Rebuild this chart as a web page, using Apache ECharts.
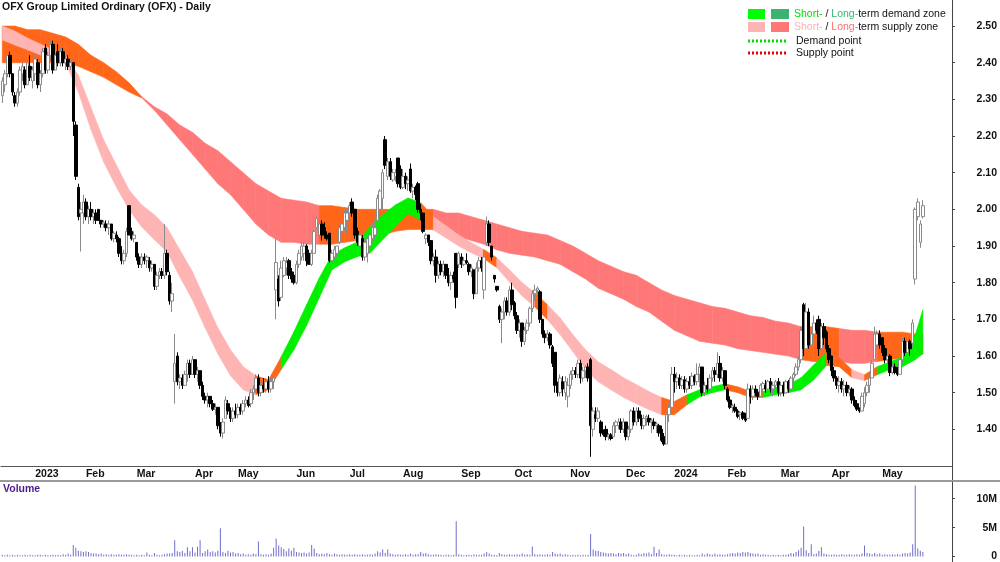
<!DOCTYPE html>
<html>
<head>
<meta charset="UTF-8">
<title>OFX Group Limited Ordinary (OFX) - Daily</title>
<script src="https://cdn.jsdelivr.net/npm/echarts/dist/echarts.min.js"></script>
<style>
  html, body { margin: 0; padding: 0; background: #fff; }
  #main { width: 1000px; height: 562px; }
</style>
</head>
<body>
<div id="main"></div>
<script>
// ASX holidays inside the charted period (weekends are skipped too)
var holidays = ['2022-12-26', '2022-12-27', '2023-01-02', '2023-01-26', '2023-04-07', '2023-04-10',
  '2023-04-25', '2023-06-12', '2023-12-25', '2023-12-26', '2024-01-01', '2024-01-26',
  '2024-03-29', '2024-04-01', '2024-04-25', '2024-06-10'];
var firstDay = '2022-12-12';
var dayCount = 375;   // includes the empty days at the right edge
var monthNames = ['Jan', 'Feb', 'Mar', 'Apr', 'May', 'Jun', 'Jul', 'Aug', 'Sep', 'Oct', 'Nov', 'Dec'];

// daily bars: [open, high, low, close, volume (millions)]
var bars2212 = [[2.31,2.36,2.29,2.35,0.3],[2.34,2.38,2.32,2.37,0.2],[2.37,2.43,2.36,2.42,0.3],[2.42,2.43,2.36,2.37,0.2],
  [2.37,2.37,2.31,2.32,0.3],[2.31,2.32,2.28,2.29,0.2],[2.29,2.33,2.28,2.32,0.3],[2.32,2.39,2.31,2.38,0.2],
  [2.37,2.40,2.35,2.39,0.2],[2.38,2.39,2.33,2.34,0.3],[2.34,2.41,2.34,2.40,0.2],[2.39,2.42,2.35,2.36,0.3],
  [2.35,2.39,2.33,2.38,0.2]];
var bars2301 = [[2.37,2.42,2.35,2.41,0.2],[2.40,2.41,2.33,2.34,0.3],[2.34,2.38,2.32,2.37,0.3],[2.37,2.44,2.36,2.43,0.2],
  [2.44,2.45,2.37,2.38,0.3],[2.38,2.43,2.37,2.42,0.2],[2.42,2.46,2.41,2.45,0.2],[2.45,2.46,2.37,2.38,0.3],
  [2.38,2.43,2.38,2.42,0.2],[2.43,2.45,2.39,2.40,0.3],[2.40,2.44,2.39,2.43,0.2],[2.43,2.44,2.39,2.40,0.4],
  [2.40,2.42,2.38,2.41,0.3],[2.41,2.42,2.38,2.39,0.5],[2.39,2.41,2.38,2.40,0.3],[2.40,2.40,2.20,2.24,2.0],
  [2.23,2.24,2.08,2.09,1.5],[2.06,2.07,1.97,1.98,1.0],[1.99,2.02,1.885,2.00,0.9],[1.99,2.04,1.96,2.02,0.8]];
var bars2302 = [[2.02,2.03,1.97,1.98,0.9],[1.98,2.01,1.96,2.00,0.8],[2.00,2.02,1.97,1.98,0.6],[1.98,2.00,1.96,1.99,0.5],
  [1.99,2.00,1.96,1.97,0.5],[2.00,2.00,1.97,1.97,0.4],[1.97,1.97,1.95,1.96,0.5],[1.96,1.97,1.95,1.965,0.3],
  [1.96,1.97,1.94,1.95,0.4],[1.95,1.97,1.93,1.96,0.3],[1.96,1.96,1.915,1.92,0.4],[1.92,1.94,1.91,1.935,0.3],
  [1.93,1.94,1.91,1.92,0.3],[1.92,1.925,1.87,1.88,0.4],[1.88,1.90,1.85,1.86,0.3],[1.86,1.89,1.85,1.88,0.3],
  [1.88,1.95,1.87,1.94,0.4],[2.01,2.01,1.93,1.93,0.3],[1.94,1.95,1.915,1.92,0.3],[1.92,1.94,1.91,1.93,0.2]];
var bars2303 = [[1.91,1.91,1.86,1.87,0.3],[1.87,1.88,1.84,1.85,0.2],[1.85,1.88,1.84,1.87,0.3],[1.87,1.88,1.85,1.86,0.2],
  [1.86,1.875,1.84,1.87,0.7],[1.86,1.87,1.83,1.84,0.3],[1.84,1.86,1.83,1.85,0.2],[1.85,1.85,1.78,1.79,0.6],
  [1.79,1.83,1.78,1.82,0.3],[1.82,1.84,1.81,1.83,0.2],[1.83,1.84,1.81,1.82,0.3],[1.82,1.96,1.81,1.88,0.4],
  [1.88,1.89,1.82,1.83,0.5],[1.82,1.83,1.74,1.75,0.5],[1.75,1.80,1.72,1.77,0.6],[1.53,1.66,1.47,1.58,2.8],
  [1.60,1.61,1.52,1.53,0.9],[1.53,1.55,1.51,1.54,0.8],[1.54,1.55,1.51,1.52,1.0],[1.52,1.56,1.52,1.55,0.6],
  [1.55,1.59,1.53,1.58,1.6],[1.58,1.59,1.54,1.55,0.9],[1.55,1.60,1.55,1.59,1.6]];
var bars2304 = [[1.59,1.59,1.54,1.55,0.7],[1.55,1.57,1.53,1.56,1.7],[1.56,1.56,1.51,1.52,2.8],[1.52,1.53,1.48,1.49,0.6],
  [1.49,1.50,1.47,1.48,0.9],[1.48,1.50,1.46,1.49,1.2],[1.49,1.49,1.46,1.47,0.8],[1.47,1.48,1.45,1.455,0.9],
  [1.455,1.47,1.44,1.46,0.7],[1.46,1.46,1.40,1.41,1.0],[1.41,1.42,1.38,1.39,4.9],[1.39,1.43,1.375,1.42,0.8],
  [1.43,1.49,1.43,1.48,0.6],[1.47,1.48,1.44,1.45,1.0],[1.45,1.46,1.42,1.43,0.7],[1.43,1.46,1.42,1.45,0.8],
  [1.45,1.47,1.43,1.44,0.5]];
var bars2305 = [[1.44,1.47,1.43,1.46,0.6],[1.46,1.47,1.44,1.45,0.4],[1.45,1.48,1.44,1.47,0.5],[1.47,1.49,1.46,1.48,0.3],
  [1.48,1.49,1.46,1.465,0.4],[1.47,1.51,1.46,1.50,0.3],[1.50,1.52,1.48,1.51,0.5],[1.51,1.55,1.50,1.54,0.4],
  [1.54,1.55,1.49,1.50,2.6],[1.50,1.53,1.49,1.52,0.4],[1.52,1.54,1.50,1.51,0.3],[1.51,1.54,1.50,1.53,0.4],
  [1.53,1.545,1.50,1.51,0.3],[1.51,1.54,1.50,1.53,0.5],[1.53,1.55,1.51,1.54,1.5],[1.78,1.92,1.70,1.855,3.1],
  [1.81,1.82,1.735,1.75,1.9],[1.76,1.86,1.75,1.84,1.6],[1.82,1.87,1.815,1.86,1.3],[1.84,1.87,1.82,1.855,0.9],
  [1.86,1.865,1.81,1.82,1.4],[1.83,1.84,1.80,1.81,1.0],[1.82,1.83,1.795,1.80,1.5]];
var bars2306 = [[1.80,1.86,1.795,1.85,0.8],[1.85,1.89,1.84,1.88,0.7],[1.87,1.91,1.86,1.90,0.6],[1.88,1.91,1.86,1.90,0.7],
  [1.90,1.905,1.845,1.86,0.5],[1.88,1.89,1.85,1.85,0.7],[1.85,1.89,1.845,1.88,2.0],[1.88,1.945,1.88,1.94,1.4],
  [1.95,1.98,1.945,1.975,0.6],[1.93,1.97,1.92,1.96,0.4],[1.96,1.97,1.915,1.93,0.5],[1.95,1.965,1.92,1.93,0.4],
  [1.93,1.94,1.915,1.92,0.6],[1.935,1.935,1.855,1.86,0.4],[1.86,1.89,1.855,1.88,0.3],[1.87,1.90,1.865,1.89,0.5],
  [1.88,1.90,1.87,1.90,0.4],[1.91,1.96,1.905,1.95,0.3],[1.94,1.97,1.93,1.96,0.4],[1.95,2.00,1.94,1.99,0.3],
  [1.97,2.00,1.935,1.99,0.3]];
var bars2307 = [[1.99,2.02,1.98,2.01,0.4],[2.02,2.03,1.98,1.99,0.3],[2.00,2.00,1.92,1.93,0.4],[1.94,1.95,1.90,1.91,0.3],
  [1.90,1.935,1.89,1.93,0.3],[1.92,1.93,1.86,1.87,0.4],[1.87,1.92,1.86,1.91,0.3],[1.88,1.925,1.855,1.92,0.3],
  [1.90,1.94,1.89,1.93,0.4],[1.92,1.96,1.91,1.95,0.3],[1.93,1.97,1.92,1.95,0.5],[1.97,2.04,1.97,2.03,0.9],
  [2.00,2.055,1.99,2.05,0.7],[2.03,2.11,2.00,2.10,1.2],[2.19,2.20,2.11,2.12,0.6],[2.09,2.14,2.08,2.13,1.2],
  [2.13,2.14,2.08,2.09,0.5],[2.08,2.11,2.075,2.10,0.4],[2.09,2.11,2.075,2.10,0.3],[2.14,2.14,2.06,2.07,0.4],
  [2.11,2.12,2.055,2.06,0.3]];
var bars2308 = [[2.06,2.11,2.055,2.09,0.3],[2.09,2.10,2.055,2.07,0.4],[2.07,2.09,2.05,2.08,0.3],[2.11,2.125,2.045,2.05,0.5],
  [2.05,2.07,2.03,2.06,0.3],[2.06,2.065,2.025,2.04,0.4],[2.07,2.075,1.99,2.00,0.4],[2.00,2.015,1.97,1.99,0.8],
  [1.99,1.99,1.935,1.94,0.5],[1.92,1.935,1.905,1.93,0.6],[1.93,1.93,1.90,1.91,0.4],[1.915,1.915,1.85,1.86,0.3],
  [1.86,1.88,1.845,1.87,0.3],[1.87,1.89,1.80,1.82,0.4],[1.82,1.86,1.81,1.85,0.3],[1.85,1.86,1.82,1.83,0.3],
  [1.83,1.86,1.815,1.85,0.2],[1.85,1.85,1.81,1.82,0.3],[1.82,1.84,1.79,1.80,0.3],[1.80,1.83,1.78,1.82,0.2],
  [1.82,1.83,1.80,1.81,0.3],[1.88,1.88,1.73,1.76,6.1],[1.85,1.885,1.84,1.88,0.4]];
var bars2309 = [[1.87,1.88,1.84,1.85,0.3],[1.85,1.87,1.845,1.86,0.2],[1.86,1.88,1.85,1.855,0.3],[1.85,1.855,1.82,1.83,0.3],
  [1.83,1.85,1.815,1.84,0.2],[1.835,1.835,1.755,1.77,0.4],[1.77,1.855,1.77,1.84,0.3],[1.84,1.87,1.83,1.86,0.3],
  [1.86,1.87,1.83,1.84,0.3],[1.78,1.89,1.755,1.87,0.5],[1.91,1.98,1.90,1.96,0.8],[1.96,1.97,1.90,1.91,0.5],
  [1.90,1.90,1.86,1.87,0.3],[1.82,1.82,1.80,1.81,0.3],[1.79,1.79,1.775,1.78,0.2],[1.735,1.74,1.69,1.70,0.6],
  [1.70,1.73,1.635,1.72,0.4],[1.72,1.76,1.70,1.75,0.3],[1.75,1.76,1.71,1.72,0.3],[1.72,1.79,1.71,1.78,0.4],
  [1.78,1.80,1.725,1.74,0.3]];
var bars2310 = [[1.745,1.75,1.70,1.71,0.3],[1.71,1.72,1.66,1.67,0.4],[1.67,1.70,1.65,1.69,0.3],[1.69,1.69,1.625,1.64,0.5],
  [1.64,1.68,1.63,1.67,0.3],[1.67,1.70,1.66,1.69,0.4],[1.69,1.735,1.68,1.73,0.3],[1.73,1.78,1.72,1.77,1.75],
  [1.77,1.795,1.75,1.78,0.4],[1.78,1.79,1.76,1.785,0.3],[1.775,1.78,1.69,1.70,0.4],[1.70,1.70,1.65,1.66,0.3],
  [1.66,1.67,1.635,1.65,0.3],[1.65,1.67,1.64,1.66,0.4],[1.66,1.665,1.62,1.63,0.3],[1.625,1.63,1.57,1.58,0.8],
  [1.61,1.61,1.50,1.52,0.5],[1.52,1.53,1.49,1.50,0.4],[1.50,1.55,1.49,1.54,0.5],[1.53,1.545,1.49,1.51,0.3],
  [1.50,1.545,1.48,1.53,0.4],[1.49,1.54,1.46,1.52,0.3]];
var bars2311 = [[1.52,1.56,1.51,1.55,0.2],[1.55,1.57,1.535,1.56,0.3],[1.56,1.57,1.54,1.55,0.2],[1.55,1.59,1.54,1.58,0.3],
  [1.58,1.59,1.525,1.54,0.2],[1.54,1.57,1.53,1.56,0.3],[1.56,1.575,1.54,1.57,0.2],[1.57,1.58,1.53,1.54,0.3],
  [1.59,1.595,1.325,1.41,3.9],[1.40,1.46,1.38,1.45,1.2],[1.44,1.46,1.42,1.43,1.0],[1.43,1.46,1.42,1.45,1.0],
  [1.42,1.425,1.38,1.39,0.8],[1.39,1.40,1.38,1.385,0.7],[1.40,1.41,1.37,1.38,0.6],[1.38,1.39,1.37,1.385,0.5],
  [1.385,1.39,1.37,1.375,0.6],[1.38,1.42,1.38,1.41,0.5],[1.41,1.425,1.39,1.42,0.4],[1.41,1.43,1.40,1.42,0.6],
  [1.42,1.43,1.39,1.40,0.5],[1.40,1.43,1.39,1.42,0.6]];
var bars2312 = [[1.42,1.42,1.37,1.38,0.4],[1.38,1.41,1.37,1.40,0.5],[1.40,1.455,1.39,1.45,0.3],[1.45,1.46,1.41,1.42,0.2],
  [1.42,1.46,1.41,1.45,0.3],[1.45,1.46,1.42,1.43,0.5],[1.43,1.44,1.40,1.41,0.4],[1.41,1.44,1.40,1.43,0.6],
  [1.43,1.44,1.41,1.435,0.5],[1.43,1.44,1.41,1.42,0.7],[1.42,1.43,1.39,1.425,0.4],[1.42,1.43,1.40,1.41,1.7],
  [1.41,1.42,1.39,1.415,0.6],[1.41,1.415,1.38,1.39,1.2],[1.40,1.41,1.365,1.37,0.4],[1.38,1.39,1.355,1.36,0.3],
  [1.36,1.445,1.36,1.44,0.3],[1.44,1.47,1.42,1.46,0.4],[1.46,1.57,1.46,1.55,0.3]];
var bars2401 = [[1.55,1.57,1.50,1.53,0.3],[1.53,1.555,1.51,1.54,0.2],[1.54,1.55,1.51,1.52,0.3],[1.52,1.545,1.51,1.535,0.2],
  [1.535,1.545,1.50,1.51,0.3],[1.51,1.54,1.50,1.53,0.2],[1.53,1.545,1.51,1.52,0.3],[1.52,1.555,1.51,1.545,0.2],
  [1.545,1.55,1.52,1.53,0.2],[1.53,1.58,1.52,1.55,0.3],[1.55,1.58,1.515,1.57,0.2],[1.57,1.57,1.49,1.50,0.5],
  [1.50,1.53,1.49,1.52,0.3],[1.52,1.54,1.50,1.51,0.5],[1.51,1.55,1.50,1.54,0.4],[1.54,1.57,1.53,1.56,0.3],
  [1.56,1.57,1.53,1.55,0.5],[1.55,1.61,1.54,1.58,0.3],[1.58,1.60,1.53,1.54,0.4],[1.54,1.57,1.53,1.56,0.3],
  [1.56,1.56,1.51,1.52,0.3]];
var bars2402 = [[1.51,1.515,1.475,1.48,0.4],[1.48,1.49,1.455,1.46,0.5],[1.46,1.47,1.445,1.465,0.6],[1.46,1.47,1.445,1.45,0.5],
  [1.45,1.455,1.43,1.435,0.7],[1.44,1.45,1.425,1.445,0.6],[1.445,1.45,1.425,1.43,0.8],[1.43,1.445,1.42,1.425,0.7],
  [1.43,1.525,1.43,1.51,0.8],[1.51,1.52,1.47,1.49,0.6],[1.49,1.52,1.48,1.51,0.5],[1.51,1.52,1.49,1.50,0.4],
  [1.50,1.51,1.48,1.49,0.5],[1.49,1.525,1.49,1.52,0.3],[1.51,1.53,1.50,1.525,0.4],[1.52,1.535,1.50,1.51,0.3],
  [1.51,1.535,1.50,1.53,0.3],[1.53,1.54,1.50,1.51,0.2],[1.51,1.53,1.49,1.52,0.3],[1.52,1.535,1.50,1.53,0.2],
  [1.53,1.54,1.49,1.50,0.3]];
var bars2403 = [[1.50,1.53,1.49,1.52,0.2],[1.52,1.53,1.49,1.50,0.3],[1.50,1.535,1.50,1.53,0.3],[1.53,1.535,1.50,1.51,0.4],
  [1.51,1.545,1.51,1.54,0.6],[1.54,1.555,1.515,1.55,0.5],[1.55,1.58,1.545,1.57,0.8],[1.57,1.60,1.56,1.59,1.1],
  [1.59,1.68,1.58,1.67,1.5],[1.74,1.745,1.60,1.62,5.2],[1.62,1.745,1.61,1.72,1.1],[1.72,1.73,1.62,1.63,0.6],
  [1.63,1.67,1.615,1.66,2.1],[1.66,1.71,1.645,1.69,0.4],[1.69,1.70,1.66,1.67,0.5],[1.70,1.71,1.60,1.62,1.0],
  [1.62,1.69,1.61,1.68,1.6],[1.68,1.69,1.63,1.65,0.5],[1.665,1.67,1.61,1.62,0.4],[1.62,1.63,1.58,1.59,0.3]];
var bars2404 = [[1.60,1.60,1.545,1.56,0.3],[1.56,1.57,1.53,1.54,0.4],[1.54,1.545,1.51,1.52,0.3],[1.52,1.545,1.50,1.53,0.3],
  [1.53,1.54,1.50,1.51,0.4],[1.51,1.535,1.49,1.52,0.3],[1.52,1.53,1.49,1.50,0.3],[1.50,1.52,1.49,1.51,0.4],
  [1.51,1.515,1.47,1.48,0.3],[1.48,1.49,1.46,1.465,0.3],[1.47,1.48,1.45,1.455,0.4],[1.455,1.46,1.445,1.45,0.3],
  [1.45,1.50,1.45,1.49,0.5],[1.47,1.515,1.46,1.50,1.9],[1.50,1.53,1.49,1.52,0.6],[1.52,1.545,1.50,1.54,0.5],
  [1.54,1.59,1.54,1.58,0.4],[1.59,1.68,1.59,1.66,0.6],[1.63,1.67,1.62,1.66,0.4],[1.66,1.67,1.62,1.63,0.5]];
var bars2405 = [[1.65,1.65,1.60,1.61,0.3],[1.62,1.63,1.58,1.59,0.4],[1.59,1.61,1.57,1.60,0.3],[1.60,1.605,1.545,1.555,0.3],
  [1.555,1.58,1.55,1.57,0.4],[1.57,1.58,1.55,1.555,0.3],[1.56,1.57,1.545,1.55,0.4],[1.55,1.60,1.55,1.59,0.3],
  [1.59,1.65,1.58,1.64,0.5],[1.64,1.65,1.60,1.61,0.6],[1.61,1.65,1.60,1.64,0.5],[1.64,1.645,1.60,1.62,0.7],
  [1.635,1.70,1.625,1.69,2.1],[1.81,2.005,1.795,2.00,12.3],[1.98,2.03,1.97,2.02,1.4],[1.91,1.97,1.895,1.96,1.0],
  [1.98,2.025,1.975,2.01,0.8]];

// zone bands, read every 5 trading days (day index from firstDay)
var bandDays = [0,5,10,15,20,25,30,35,40,45,50,55,60,65,70,75,80,85,90,95,100,105,110,115,120,125,130,135,140,145,
  150,155,160,165,170,175,180,185,190,195,200,205,210,215,220,225,230,235,240,245,250,255,260,265,270,275,280,285,
  290,295,300,305,310,315,320,325,330,335,340,345,350,355,360,363];
var ltHigh = [2.50,2.50,2.49,2.49,2.48,2.47,2.45,2.42,2.40,2.375,2.345,2.307,2.28,2.26,2.23,2.21,2.18,2.16,2.13,2.10,
  2.07,2.05,2.03,2.025,2.02,2.01,2.01,2.005,2.00,2.00,2.00,2.00,2.00,2.00,2.00,1.99,1.99,1.98,1.97,1.96,
  1.95,1.94,1.935,1.93,1.915,1.90,1.88,1.86,1.845,1.83,1.82,1.80,1.78,1.765,1.755,1.745,1.735,1.73,1.72,1.71,
  1.705,1.695,1.69,1.68,1.68,1.68,1.675,1.67,1.67,1.665,1.665,1.665,1.66,1.66];
var ltLow = [2.40,2.40,2.40,2.40,2.40,2.40,2.39,2.375,2.36,2.34,2.32,2.304,2.27,2.23,2.19,2.15,2.11,2.07,2.04,2.00,
  1.96,1.93,1.91,1.91,1.905,1.905,1.905,1.91,1.915,1.92,1.93,1.94,1.945,1.945,1.945,1.935,1.925,1.915,1.905,1.89,
  1.88,1.875,1.87,1.86,1.85,1.83,1.81,1.785,1.77,1.755,1.735,1.72,1.695,1.67,1.655,1.64,1.635,1.63,1.62,1.615,
  1.61,1.605,1.60,1.59,1.585,1.585,1.585,1.58,1.58,1.585,1.59,1.595,1.60,1.605];
var stHigh = [2.50,2.486,2.467,2.451,2.435,2.418,2.366,2.277,2.189,2.121,2.053,2.012,1.985,1.950,1.890,1.830,1.753,1.677,1.617,1.571,
  1.546,1.535,1.598,1.666,1.740,1.813,1.876,1.895,1.911,1.952,1.985,2.012,2.031,2.018,1.980,1.955,1.930,1.909,1.890,1.868,
  1.835,1.800,1.772,1.740,1.704,1.658,1.617,1.584,1.563,1.541,1.522,1.503,1.487,1.476,1.494,1.508,1.516,1.524,1.516,1.503,
  1.503,1.514,1.522,1.541,1.576,1.609,1.595,1.563,1.549,1.571,1.584,1.598,1.658,1.726];
var stLow = [2.462,2.448,2.435,2.421,2.410,2.399,2.320,2.217,2.129,2.061,1.999,1.952,1.917,1.884,1.816,1.753,1.677,1.606,1.546,1.508,
  1.494,1.508,1.563,1.617,1.683,1.759,1.835,1.857,1.871,1.881,1.917,1.952,1.988,1.971,1.944,1.922,1.900,1.881,1.865,1.841,
  1.802,1.764,1.734,1.699,1.658,1.612,1.563,1.530,1.508,1.487,1.470,1.454,1.440,1.440,1.467,1.489,1.500,1.508,1.500,1.487,
  1.487,1.494,1.500,1.508,1.535,1.574,1.571,1.541,1.533,1.549,1.563,1.571,1.590,1.606];
// zone of each stretch between two band points: s = supply, d = demand, n = neutral
var ltZone = 'nnnnnnnnnnn' + 'ssssssssssssss' + 'nnnnnnnnn' + 'sssssssssssssssssssssssssssss' + 'nnn' + 'sss' + 'nnnn';
var stZone = 'ssssssssssssssssssss' + 'nn' + 'ddddddddddd' + 'n' + 'ssss' + 'n' + 'sss' + 'n' + 'sssssssss' +
  'nn' + 'ddd' + 'nnn' + 'ddddd' + 'nn' + 's' + 'n' + 'dddd';

var FONT = '"Liberation Sans", Arial, sans-serif';

function tradingDays(start, n) {
  var out = [], d = new Date(start + 'T00:00:00Z');
  while (out.length < n) {
    var dow = d.getUTCDay(), s = d.toISOString().slice(0, 10);
    if (dow !== 0 && dow !== 6 && holidays.indexOf(s) < 0) out.push(s);
    d.setUTCDate(d.getUTCDate() + 1);
  }
  return out;
}

var dates = tradingDays(firstDay, dayCount);
var bars = [].concat(bars2212, bars2301, bars2302, bars2303, bars2304, bars2305, bars2306, bars2307, bars2308,
  bars2309, bars2310, bars2311, bars2312, bars2401, bars2402, bars2403, bars2404, bars2405);
var candles = bars.map(function (b) { return [b[0], b[3], b[2], b[1]]; });
var volumes = bars.map(function (b) { return b[4]; });

// month ticks only where there is data
function monthStart(i) {
  return i > 0 && i < bars.length && dates[i].slice(5, 7) !== dates[i - 1].slice(5, 7);
}

function zoneBand(hi, lo, zones, palette, z) {
  var items = [];
  for (var i = 0; i < bandDays.length - 1; i++) {
    items.push([bandDays[i], lo[i], hi[i], bandDays[i + 1], lo[i + 1], hi[i + 1]]);
  }
  return {
    type: 'custom', xAxisIndex: 0, yAxisIndex: 0, z: z, silent: true,
    encode: { x: [0, 3], y: [1, 2, 4, 5] },
    data: items,
    renderItem: function (params, api) {
      var col = palette[zones.charAt(params.dataIndex)];
      var pts = [
        api.coord([api.value(0), api.value(2)]),
        api.coord([api.value(3), api.value(5)]),
        api.coord([api.value(3), api.value(4)]),
        api.coord([api.value(0), api.value(1)])
      ];
      return { type: 'polygon', shape: { points: pts }, style: { fill: col, stroke: col, lineWidth: 0.6 } };
    }
  };
}

var chart = echarts.init(document.getElementById('main'));
chart.setOption({
  animation: false,
  backgroundColor: '#fff',
  grid: [
    { left: 1, right: 48, top: 0, height: 466 },
    { left: 1, right: 48, top: 482, height: 76 }
  ],
  xAxis: [{
    type: 'category', gridIndex: 0, data: dates, boundaryGap: true,
    axisLine: { lineStyle: { color: '#555', width: 1 } },
    axisTick: { interval: monthStart, length: 3, lineStyle: { color: '#555' } },
    axisLabel: {
      interval: monthStart, align: 'left', margin: 3,
      fontFamily: FONT, fontSize: 10.5, fontWeight: 'bold', color: '#111',
      formatter: function (v) {
        var m = +v.slice(5, 7);
        return m === 1 ? v.slice(0, 4) : monthNames[m - 1];
      }
    },
    splitLine: { show: false }
  }, {
    type: 'category', gridIndex: 1, data: dates, boundaryGap: true,
    axisLine: { show: false }, axisTick: { show: false }, axisLabel: { show: false }
  }],
  yAxis: [{
    type: 'value', gridIndex: 0, position: 'right', min: 1.30, max: 2.571, interval: 0.1,
    splitLine: { show: false },
    axisLine: { show: true, lineStyle: { color: '#444' } },
    axisTick: { show: true, length: 3, lineStyle: { color: '#444' } },
    axisLabel: {
      showMinLabel: false, showMaxLabel: false, align: 'right', margin: 45,
      fontFamily: FONT, fontSize: 10.5, fontWeight: 'bold', color: '#111',
      formatter: function (v) { return v.toFixed(2); }
    }
  }, {
    type: 'value', gridIndex: 1, position: 'right', min: 0, max: 12.9, interval: 5,
    splitLine: { show: false },
    axisLine: { show: true, lineStyle: { color: '#444' } },
    axisTick: { show: true, length: 3, lineStyle: { color: '#444' } },
    axisLabel: {
      showMaxLabel: false, align: 'right', margin: 45,
      fontFamily: FONT, fontSize: 10.5, fontWeight: 'bold', color: '#111',
      formatter: function (v) { return v === 0 ? '0' : v + 'M'; }
    }
  }],
  series: [
    zoneBand(ltHigh, ltLow, ltZone, { s: '#ff7878', n: '#ff661a', d: '#3cb371' }, 1),
    zoneBand(stHigh, stLow, stZone, { s: '#ffb4b4', n: '#ff661a', d: '#00f000' }, 2),
    {
      type: 'candlestick', xAxisIndex: 0, yAxisIndex: 0, z: 3, data: candles, barWidth: 3,
      itemStyle: { color: '#ffffff', borderColor: '#8a8a8a', color0: '#000000', borderColor0: '#000000', borderWidth: 1 }
    },
    {
      type: 'bar', xAxisIndex: 1, yAxisIndex: 1, data: volumes, barWidth: 1,
      itemStyle: { color: '#6e6ecc' }
    }
  ],
  graphic: [
    { type: 'text', left: 2, top: 2, style: { text: 'OFX Group Limited Ordinary (OFX) - Daily', font: 'bold 10.5px ' + FONT, fill: '#111' } },
    { type: 'text', left: 3, top: 484, style: { text: 'Volume', font: 'bold 10.5px ' + FONT, fill: '#4d1a8c' } },
    { type: 'line', shape: { x1: 952.5, y1: 0, x2: 952.5, y2: 562 }, style: { stroke: '#444', lineWidth: 1 } },
    { type: 'line', shape: { x1: 0, y1: 481, x2: 1000, y2: 481 }, style: { stroke: '#9a9a9a', lineWidth: 2 } },
    { type: 'rect', shape: { x: 748, y: 9, width: 17, height: 10 }, style: { fill: '#00ff00' } },
    { type: 'rect', shape: { x: 771, y: 9, width: 18, height: 10 }, style: { fill: '#3cb371' } },
    { type: 'rect', shape: { x: 748, y: 22, width: 17, height: 10 }, style: { fill: '#ffb4b4' } },
    { type: 'rect', shape: { x: 771, y: 22, width: 18, height: 10 }, style: { fill: '#ff7878' } },
    { type: 'text', x: 794, y: 14, style: {
      text: '{a|Short-} / {b|Long-}term demand zone', font: '10.5px ' + FONT, fill: '#111', verticalAlign: 'middle',
      rich: { a: { fill: '#00dd00', font: '10.5px ' + FONT }, b: { fill: '#3cb371', font: '10.5px ' + FONT } } } },
    { type: 'text', x: 794, y: 27, style: {
      text: '{a|Short-} / {b|Long-}term supply zone', font: '10.5px ' + FONT, fill: '#111', verticalAlign: 'middle',
      rich: { a: { fill: '#ffb0b0', font: '10.5px ' + FONT }, b: { fill: '#ff6f6f', font: '10.5px ' + FONT } } } },
    { type: 'line', shape: { x1: 748, y1: 41, x2: 788, y2: 41 }, style: { stroke: '#00dd00', lineWidth: 3, lineDash: [2, 2] } },
    { type: 'text', x: 796, y: 41, style: { text: 'Demand point', font: '10.5px ' + FONT, fill: '#111', verticalAlign: 'middle' } },
    { type: 'line', shape: { x1: 748, y1: 53, x2: 788, y2: 53 }, style: { stroke: '#ee0000', lineWidth: 3, lineDash: [2, 2] } },
    { type: 'text', x: 796, y: 53, style: { text: 'Supply point', font: '10.5px ' + FONT, fill: '#111', verticalAlign: 'middle' } }
  ]
});
</script>
</body>
</html>
